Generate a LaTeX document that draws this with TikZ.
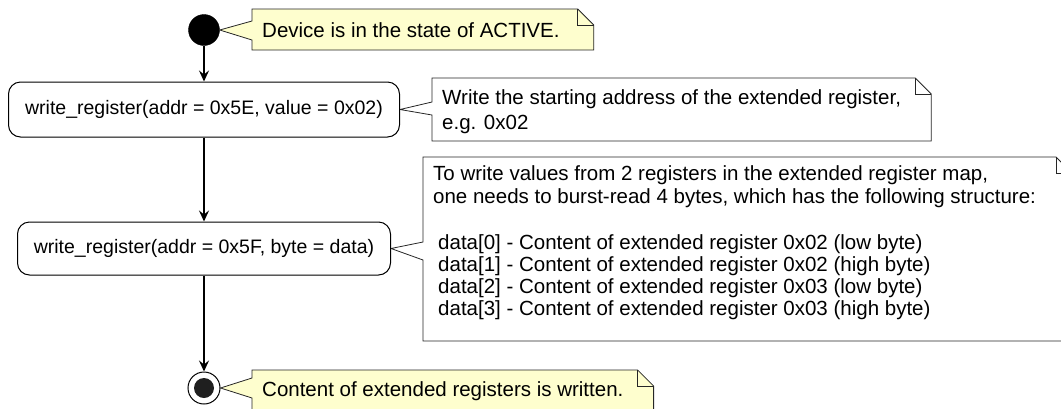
\documentclass[tikz,border=0pt]{standalone}
\usepackage{fontspec}
\setmainfont{Liberation Sans}
\usetikzlibrary{arrows.meta,backgrounds,calc}
\definecolor{noteyellow}{HTML}{FEFECE}
\begin{document}
\begin{tikzpicture}[x=1pt,y=-1pt,
  txt/.style={font=\fontsize{20.5}{24}\selectfont},
  boxtxt/.style={font=\fontsize{19.5}{23}\selectfont},
  actbox/.style={boxtxt, draw=black, line width=1pt, rounded corners=12pt, fill=white, inner sep=0pt},
  flow/.style={draw=black, line width=1.4pt, -{Stealth[length=11pt,width=10pt,inset=4pt]}},
  notebody/.style={draw=black!85, line width=0.8pt},
  notetext/.style={txt, anchor=base west, inner sep=0pt}]
\useasboundingbox (0,0) rectangle (1061,408);
% nodes
\node[circle, fill=black, draw=black, minimum size=31pt, inner sep=0pt] (start) at (204,30) {};
\node[actbox, minimum width=391pt, minimum height=55pt] (a1) at (204,109.5) {write\_register(addr = 0x5E, value = 0x02)};
\node[actbox, minimum width=373pt, minimum height=53pt] (a2) at (204,248.5) {write\_register(addr = 0x5F, byte = data)};
\node[circle, draw=black, line width=1pt, fill=white, minimum size=32pt, inner sep=0pt] (end) at (204,388) {};
\node[circle, fill=black!88, minimum size=20pt, inner sep=0pt] (endin) at (end.center) {};
% flow
\draw[flow] (start) -- (a1);
\draw[flow] (a1) -- (a2);
\draw[flow] (a2) -- (end);
% note texts
\node[notetext] (t1) at (262,37) {Device is in the state of ACTIVE.};
\node[notetext] (t2a) at (442,104) {Write the starting address of the extended register,};
\node[notetext] (t2b) at (442,129) {e.g. 0x02};
\node[notetext] (t3a) at (433,180) {To write values from 2 registers in the extended register map,};
\node[notetext] (t3b) at (433,203) {one needs to burst-read 4 bytes, which has the following structure:};
\node[notetext] (t3c) at (438,249) {data[0] - Content of extended register 0x02 (low byte)};
\node[notetext] (t3d) at (438,271) {data[1] - Content of extended register 0x02 (high byte)};
\node[notetext] (t3e) at (438,293) {data[2] - Content of extended register 0x03 (low byte)};
\node[notetext] (t3f) at (438,315) {data[3] - Content of extended register 0x03 (high byte)};
\node[notetext] (t4) at (262,396) {Content of extended registers is written.};
\begin{pgfonlayer}{background}
% note 1
\draw[notebody, fill=noteyellow] let \p1=(t1.east) in
  (252,9) -- (\x1+18pt,-9pt) -- (\x1+34pt,-25pt) -- (\x1+34pt,-50pt) -- (252,50) -- (252,40) -- (start.east) -- (252,21) -- cycle;
\draw[notebody] let \p1=(t1.east) in (\x1+18pt,-9pt) -- (\x1+18pt,-25pt) -- (\x1+34pt,-25pt);
% note 2
\draw[notebody, fill=white] let \p1=(t2a.east) in
  (432,78) -- (\x1+14pt,-78pt) -- (\x1+30pt,-94pt) -- (\x1+30pt,-141pt) -- (432,141) -- (432,115) -- (a1.east) -- (432,102) -- cycle;
\draw[notebody] let \p1=(t2a.east) in (\x1+14pt,-78pt) -- (\x1+14pt,-94pt) -- (\x1+30pt,-94pt);
% note 3
\draw[notebody, fill=white] (423,157) -- (1056,157) -- (1072,173) -- (1072,341) -- (423,341) -- (423,260) -- (a2.east) -- (423,242) -- cycle;
\draw[notebody] (1056,157) -- (1056,173) -- (1072,173);
% note 4
\draw[notebody, fill=noteyellow] let \p1=(t4.east) in
  (252,370) -- (\x1+14pt,-370pt) -- (\x1+30pt,-386pt) -- (\x1+30pt,-420pt) -- (252,420) -- (252,398) -- (end.east) -- (252,378) -- cycle;
\draw[notebody] let \p1=(t4.east) in (\x1+14pt,-370pt) -- (\x1+14pt,-386pt) -- (\x1+30pt,-386pt);
\end{pgfonlayer}
\end{tikzpicture}
\end{document}
